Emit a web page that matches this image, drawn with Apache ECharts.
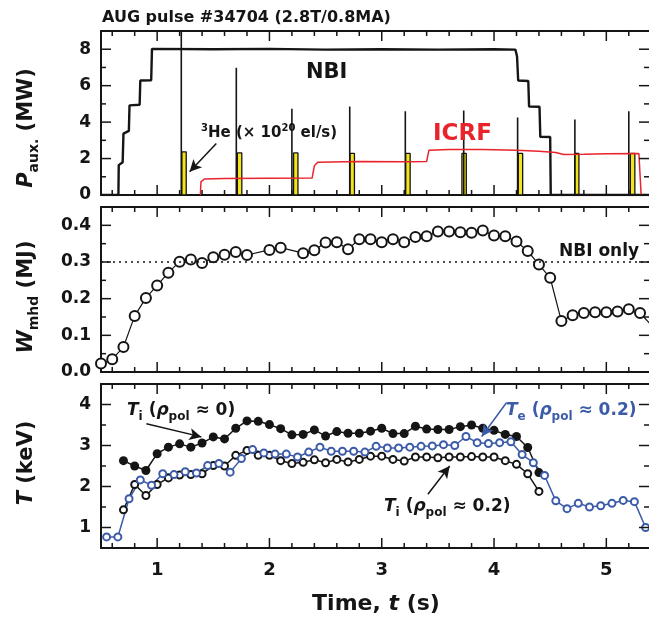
<!DOCTYPE html>
<html><head><meta charset="utf-8">
<script src="https://cdn.jsdelivr.net/npm/echarts@6/dist/echarts.min.js"></script>
<style>html,body{margin:0;padding:0;background:#fff}#c{width:649px;height:620px}</style>
</head><body><div id="c"></div>
<script>
// ---------- Panel 1: auxiliary heating power (MW) ----------
const nbiT = [0.5, 0.655, 0.658, 0.693, 0.700, 0.748, 0.754, 0.844, 0.850, 0.947, 0.954, 1.5, 2.0, 2.5, 3.0, 3.5, 4.0, 4.19, 4.205, 4.215, 4.305, 4.312, 4.405, 4.412, 4.500, 4.505, 5.38];
const nbiP = [0, 0, 1.64, 1.80, 3.37, 3.52, 4.92, 4.95, 6.28, 6.30, 8.02, 8.00, 8.02, 7.98, 8.00, 7.98, 8.00, 7.98, 7.60, 6.28, 6.26, 4.86, 4.84, 3.19, 3.18, 0, 0];
const icrfT = [1.385, 1.39, 1.42, 1.6, 2.0, 2.38, 2.40, 2.43, 2.8, 3.2, 3.40, 3.42, 3.6, 3.9, 4.2, 4.4, 4.55, 4.62, 4.8, 5.0, 5.29, 5.31];
const icrfP = [0, 0.72, 0.88, 0.91, 0.92, 0.93, 1.60, 1.80, 1.84, 1.83, 1.84, 2.45, 2.50, 2.50, 2.46, 2.40, 2.33, 2.22, 2.24, 2.27, 2.28, 0];
const puffStart = [1.220, 1.714, 2.215, 2.717, 3.213, 3.714, 4.216, 4.718, 5.214];
const puffEnd   = [1.259, 1.754, 2.254, 2.757, 3.253, 3.753, 4.255, 4.756, 5.254];
const puffAmp   = [2.37, 2.31, 2.31, 2.28, 2.28, 2.28, 2.28, 2.28, 2.28];
const spikeT = [1.215, 1.705, 2.200, 2.715, 3.210, 3.730, 4.210, 4.720, 5.200];
const spikeH = [9.5, 6.98, 4.74, 4.86, 4.59, 4.64, 4.25, 4.14, 4.60];

// ---------- Panel 2: stored energy W_mhd (MJ) ----------
const wT = [0.5,0.6,0.7,0.8,0.9,1.0,1.1,1.2,1.3,1.4,1.5,1.6,1.7,1.8,2.0,2.1,2.3,2.4,2.5,2.6,2.7,2.8,2.9,3.0,3.1,3.2,3.3,3.4,3.5,3.6,3.7,3.8,3.9,4.0,4.1,4.2,4.3,4.4,4.5,4.6,4.7,4.8,4.9,5.0,5.1,5.2,5.3,5.41];
const wV = [0.023,0.035,0.068,0.153,0.202,0.236,0.271,0.301,0.307,0.297,0.313,0.320,0.327,0.319,0.333,0.339,0.324,0.332,0.353,0.354,0.335,0.362,0.362,0.354,0.362,0.354,0.368,0.370,0.383,0.383,0.381,0.380,0.386,0.372,0.370,0.356,0.330,0.293,0.257,0.139,0.155,0.161,0.163,0.163,0.165,0.171,0.161,0.125];
const nbiOnlyLevel = 0.3;

// ---------- Panel 3: temperatures (keV) ----------
const tiT = [0.7,0.8,0.9,1.0,1.1,1.2,1.3,1.4,1.5,1.6,1.7,1.8,1.9,2.0,2.1,2.2,2.3,2.4,2.5,2.6,2.7,2.8,2.9,3.0,3.1,3.2,3.3,3.4,3.5,3.6,3.7,3.8,3.9,4.0,4.1,4.2,4.3,4.4];
const ti0 = [2.63,2.50,2.39,2.80,2.96,3.04,2.96,3.06,3.21,3.16,3.42,3.60,3.59,3.51,3.41,3.26,3.27,3.38,3.23,3.34,3.30,3.30,3.35,3.42,3.29,3.29,3.47,3.40,3.39,3.39,3.46,3.50,3.42,3.37,3.27,3.22,2.95,2.34];
const ti02 = [1.43,2.05,1.78,2.05,2.21,2.28,2.29,2.31,2.51,2.50,2.76,2.88,2.76,2.76,2.63,2.56,2.59,2.65,2.58,2.66,2.60,2.66,2.74,2.74,2.66,2.62,2.72,2.72,2.70,2.72,2.72,2.73,2.72,2.72,2.63,2.54,2.31,1.88];
const teT = [0.55,0.65,0.75,0.85,0.95,1.05,1.15,1.25,1.35,1.45,1.55,1.65,1.75,1.85,1.95,2.05,2.15,2.25,2.35,2.45,2.55,2.65,2.75,2.85,2.95,3.05,3.15,3.25,3.35,3.45,3.55,3.65,3.75,3.85,3.95,4.05,4.15,4.25,4.35,4.45,4.55,4.65,4.75,4.85,4.95,5.05,5.15,5.25,5.35];
const te02 = [0.77,0.77,1.70,2.16,2.03,2.31,2.29,2.36,2.33,2.51,2.56,2.35,2.68,2.90,2.82,2.79,2.79,2.72,2.84,2.96,2.86,2.86,2.86,2.84,2.98,2.94,2.94,2.96,2.98,2.99,3.02,3.00,3.22,3.07,3.05,3.07,3.09,2.78,2.58,2.27,1.65,1.46,1.59,1.50,1.53,1.59,1.66,1.63,1.00];

// ---------- axis ranges and tick values ----------
const xRange = [0.5, 5.38];
const xMajor = [1, 2, 3, 4, 5];
const xMinor = [0.6, 0.8, 1.2, 1.4, 1.6, 1.8, 2.2, 2.4, 2.6, 2.8, 3.2, 3.4, 3.6, 3.8, 4.2, 4.4, 4.6, 4.8, 5.2];
const pRange = [0, 9],     pMajor = [0, 2, 4, 6, 8],          pMinor = [1, 3, 5, 7];
const wRange = [0, 0.45],  wMajor = [0, 0.1, 0.2, 0.3, 0.4],  wMinor = [0.05, 0.15, 0.25, 0.35];
const tRange = [0.5, 4.5], tMajor = [1, 2, 3, 4],             tMinor = [1.5, 2.5, 3.5];

const INK = '#151515', RED = '#e8232b', BLUE = '#3c5ba8', YEL = '#f3e41c';
const FF = '"DejaVu Sans", sans-serif';
const pair = (xs, ys) => xs.map((x, i) => [x, ys[i]]);

const puffData = [[xRange[0], 0]];
puffStart.forEach((s, i) => { puffData.push([s, 0], [s, puffAmp[i]], [puffEnd[i], puffAmp[i]], [puffEnd[i], 0]); });
puffData.push([xRange[1], 0]);
const spikeData = [];
spikeT.forEach((t, i) => { spikeData.push([t, 0], [t, spikeH[i]], [t, 0]); });

const grids = [
  {left: 101, top: 31, width: 548, height: 164},
  {left: 101, top: 207, width: 548, height: 165},
  {left: 101, top: 384, width: 548, height: 164}
];

function ax(gi, pos, range, line, labels, fmt, fs, margin) {
  return {
    type: 'value', gridIndex: gi, position: pos, min: range[0], max: range[1],
    axisLine: {show: line, onZero: false, lineStyle: {color: INK, width: 2}},
    axisTick: {show: false}, minorTick: {show: false},
    splitLine: {show: false}, minorSplitLine: {show: false},
    axisLabel: labels ? {show: true, customValues: labels, formatter: fmt, fontSize: fs, fontWeight: 'bold',
      color: INK, fontFamily: FF, margin: margin} : {show: false}
  };
}
const fInt = v => String(Math.round(v));
const fOne = v => Number(v).toFixed(1);

const xAxes = [], yAxes = [], xIdx = [], yIdx = [];
const yDefs = [[pRange, pMajor, pMinor, fInt], [wRange, wMajor, wMinor, fOne], [tRange, tMajor, tMinor, fInt]];
for (let g = 0; g < 3; g++) {
  xIdx.push(xAxes.length);
  xAxes.push(ax(g, 'bottom', xRange, true, g === 2 ? xMajor : null, fInt, 18, 13));
  xAxes.push(ax(g, 'top', xRange, true, null));
  const d = yDefs[g];
  yIdx.push(yAxes.length);
  yAxes.push(ax(g, 'left', d[0], true, d[1], d[3], 17, 10));
  yAxes.push(ax(g, 'right', d[0], false, null));
}

function arrow(a, b, color) {
  return {
    silent: true, symbol: ['none', 'arrow'], symbolSize: [9, 12], animation: false,
    label: {show: false}, lineStyle: {color: color, width: 1.5, type: 'solid'},
    data: [[{coord: a}, {coord: b}]]
  };
}

// inward tick marks drawn by custom series through each panel's own axes
function tickSeries(g, kind, vals, len) {
  const yr = yDefs[g][0];
  return {
    type: 'custom', xAxisIndex: xIdx[g], yAxisIndex: yIdx[g], silent: true, z: 10, animation: false,
    clip: false, data: vals.map(v => [v, len]),
    renderItem: function (params, api) {
      const v = api.value(0), L = api.value(1);
      const st = {stroke: INK, lineWidth: 1.5};
      if (kind === 'x') {
        const a = api.coord([v, yr[0]]), b = api.coord([v, yr[1]]);
        return {type: 'group', children: [
          {type: 'line', shape: {x1: a[0], y1: a[1], x2: a[0], y2: a[1] - L}, style: st},
          {type: 'line', shape: {x1: b[0], y1: b[1], x2: b[0], y2: b[1] + L}, style: st}]};
      }
      const l = api.coord([xRange[0], v]), r = api.coord([xRange[1], v]);
      return {type: 'group', children: [
        {type: 'line', shape: {x1: l[0], y1: l[1], x2: l[0] + L, y2: l[1]}, style: st},
        {type: 'line', shape: {x1: r[0], y1: r[1], x2: r[0] - L, y2: r[1]}, style: st}]};
    }
  };
}

const series = [
  {type: 'line', xAxisIndex: xIdx[0], yAxisIndex: yIdx[0], data: puffData, showSymbol: false, z: 2,
    lineStyle: {color: INK, width: 1.3}, areaStyle: {color: YEL, opacity: 1}},
  {type: 'line', xAxisIndex: xIdx[0], yAxisIndex: yIdx[0], data: pair(nbiT, nbiP), showSymbol: false, z: 3,
    lineStyle: {color: INK, width: 2.4}},
  {type: 'line', xAxisIndex: xIdx[0], yAxisIndex: yIdx[0], data: spikeData, showSymbol: false, z: 3,
    lineStyle: {color: INK, width: 1.6}},
  {type: 'line', xAxisIndex: xIdx[0], yAxisIndex: yIdx[0], data: pair(icrfT, icrfP), showSymbol: false, z: 4,
    lineStyle: {color: RED, width: 1.5},
    markLine: arrow([1.527, 2.83], [1.289, 1.27], INK)},
  {type: 'line', xAxisIndex: xIdx[1], yAxisIndex: yIdx[1], data: pair(wT, wV), symbol: 'emptyCircle', symbolSize: 10,
    lineStyle: {color: INK, width: 1.2}, itemStyle: {color: INK, borderWidth: 1.2},
    markLine: {silent: true, symbol: 'none', label: {show: false}, animation: false,
      lineStyle: {color: INK, width: 1.5, type: [2, 4]}, data: [{yAxis: nbiOnlyLevel}]}},
  {type: 'line', xAxisIndex: xIdx[2], yAxisIndex: yIdx[2], data: pair(tiT, ti0), symbol: 'circle', symbolSize: 9,
    lineStyle: {color: INK, width: 1.5}, itemStyle: {color: INK},
    markLine: arrow([0.904, 3.53], [1.394, 3.21], INK)},
  {type: 'line', xAxisIndex: xIdx[2], yAxisIndex: yIdx[2], data: pair(tiT, ti02), symbol: 'emptyCircle', symbolSize: 7,
    lineStyle: {color: INK, width: 1.5}, itemStyle: {color: INK, borderWidth: 1.5},
    markLine: arrow([3.411, 1.81], [3.605, 2.50], INK)},
  {type: 'line', xAxisIndex: xIdx[2], yAxisIndex: yIdx[2], data: pair(teT, te02), symbol: 'emptyCircle', symbolSize: 7,
    lineStyle: {color: BLUE, width: 1.5}, itemStyle: {color: BLUE, borderWidth: 1.5},
    markLine: arrow([4.112, 4.05], [3.89, 3.22], BLUE)}
];
for (let g = 0; g < 3; g++) {
  series.push(tickSeries(g, 'x', xMajor, 10), tickSeries(g, 'x', xMinor, 5),
              tickSeries(g, 'y', yDefs[g][1], 10), tickSeries(g, 'y', yDefs[g][2], 5));
}

const richBase = (main, sub, color) => ({
  m: {fontSize: main, fontWeight: 'bold', fontFamily: FF, fill: color},
  it: {fontSize: main, fontWeight: 'bold', fontStyle: 'italic', fontFamily: FF, fill: color},
  sub: {fontSize: sub, fontWeight: 'bold', fontFamily: FF, fill: color, padding: [Math.round(sub), 0, 0, 0]},
  sup: {fontSize: sub, fontWeight: 'bold', fontFamily: FF, fill: color, padding: [0, 0, Math.round(sub), 0]}
});
function rtext(x, y, text, main, sub, color, rot, align) {
  return {type: 'text', x: x, y: y, rotation: rot || 0, z: 100,
    style: {text: text, rich: richBase(main, sub, color), align: align || 'left', verticalAlign: 'middle',
      font: 'bold ' + main + 'px ' + FF, fill: color}};
}

const texts = [
  rtext(102, 18, '{m|AUG pulse #34704 (2.8T/0.8MA)}', 16, 11, INK),
  rtext(306, 73, '{m|NBI}', 21, 14, INK),
  rtext(433, 134, '{m|ICRF}', 23, 15, RED),
  rtext(201, 133, '{sup|3}{m|He (× 10}{sup|20}{m| el/s)}', 15, 10, INK),
  rtext(559, 252, '{m|NBI only}', 17, 12, INK),
  rtext(127, 411, '{it|T}{sub|i}{m| (}{it|ρ}{sub|pol}{m| ≈ 0)}', 17, 12, INK),
  rtext(506, 411, '{it|T}{sub|e}{m| (}{it|ρ}{sub|pol}{m| ≈ 0.2)}', 17, 12, BLUE),
  rtext(384, 507, '{it|T}{sub|i}{m| (}{it|ρ}{sub|pol}{m| ≈ 0.2)}', 17, 12, INK),
  rtext(376, 604, '{m|Time, }{it|t}{m| (s)}', 22, 14, INK, 0, 'center'),
  rtext(27, 128, '{it|P}{sub|aux.}{m| (MW)}', 21, 14, INK, Math.PI / 2, 'center'),
  rtext(27, 297, '{it|W}{sub|mhd}{m| (MJ)}', 21, 14, INK, Math.PI / 2, 'center'),
  rtext(27, 463, '{it|T}{m| (keV)}', 21, 14, INK, Math.PI / 2, 'center')
];

const chart = echarts.init(document.getElementById('c'), null, {renderer: 'canvas'});
chart.setOption({
  animation: false, backgroundColor: '#fff',
  grid: grids, xAxis: xAxes, yAxis: yAxes, series: series, graphic: texts
});
</script>
</body></html>
